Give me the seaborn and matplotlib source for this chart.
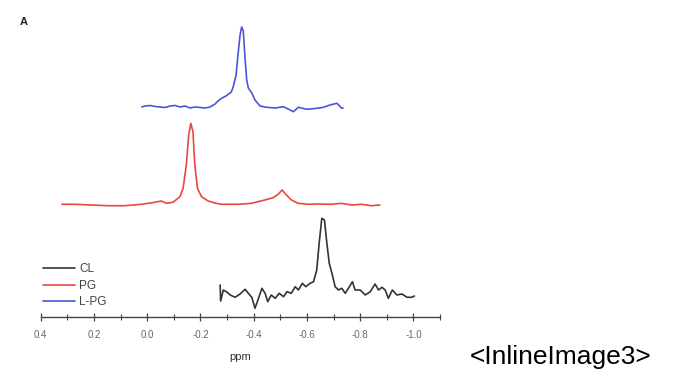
import numpy as np
import pandas as pd
import matplotlib
matplotlib.use("Agg")
import matplotlib.pyplot as plt
import seaborn as sns
from matplotlib.ticker import MultipleLocator, FormatStrFormatter

# ---- data (ppm, displayed intensity incl. stack offset) ----
lpg_ppm = [0.020, 0.008, -0.011, -0.030, -0.048, -0.067, -0.086, -0.105, -0.124, -0.142,
           -0.161, -0.180, -0.199, -0.218, -0.236, -0.255, -0.266, -0.281, -0.296, -0.316,
           -0.323, -0.334, -0.341, -0.349, -0.355, -0.361, -0.368, -0.374, -0.380, -0.393,
           -0.405, -0.424, -0.449, -0.481, -0.512, -0.537, -0.549, -0.568, -0.600, -0.637,
           -0.662, -0.687, -0.713, -0.731, -0.736]
lpg_int = [210, 211, 211.5, 210.5, 210, 209.5, 211, 211.5, 210, 211,
           209, 210, 209.5, 209, 210, 213, 216, 219, 221, 225,
           230, 242, 262, 282, 290, 286, 257, 237, 229, 224,
           217, 211, 209.7, 209, 210.3, 207, 205.3, 209.7, 207.7, 208.7,
           209.7, 212, 213.7, 208.7, 209]

pg_ppm = [0.320, 0.271, 0.210, 0.147, 0.084, 0.022, -0.029, -0.053, -0.072, -0.097,
          -0.123, -0.135, -0.147, -0.156, -0.164, -0.172, -0.179, -0.189, -0.204, -0.229,
          -0.254, -0.279, -0.304, -0.342, -0.392, -0.442, -0.473, -0.492, -0.507, -0.523,
          -0.542, -0.567, -0.605, -0.642, -0.692, -0.730, -0.767, -0.805, -0.843, -0.874]
pg_int = [112.7, 112.7, 112, 111.3, 111.3, 112.7, 114.7, 116, 113.7, 114.7,
          120.3, 128.7, 152, 182, 193.7, 185.3, 152, 128.7, 120.3, 116,
          114, 112.7, 112.7, 112.7, 113.7, 117, 119.3, 122.7, 127, 122,
          117, 113.7, 112.7, 113, 112.7, 113.7, 112, 112.7, 111.3, 112]

cl_ppm = [-0.274, -0.276, -0.286, -0.299, -0.312, -0.330, -0.349, -0.368, -0.380, -0.393,
          -0.405, -0.416, -0.431, -0.443, -0.453, -0.466, -0.481, -0.496, -0.512, -0.525,
          -0.541, -0.556, -0.568, -0.583, -0.596, -0.612, -0.625, -0.637, -0.646, -0.656,
          -0.666, -0.675, -0.684, -0.694, -0.706, -0.719, -0.731, -0.744, -0.756, -0.771,
          -0.781, -0.800, -0.819, -0.838, -0.856, -0.869, -0.882, -0.894, -0.906, -0.921,
          -0.938, -0.957, -0.976, -0.994, -1.004]
cl_int = [32, 16, 27, 25, 22, 19.7, 23, 27.7, 23.7, 19.7,
          8.7, 17, 28.7, 23.7, 15.3, 22, 18.7, 23.7, 20.3, 25.3,
          23.7, 30.3, 27, 33.7, 30.3, 33.7, 35.3, 47, 73.7, 98.7,
          97, 73.7, 53.7, 43.7, 30.3, 27, 28.7, 23.7, 28.7, 35.3,
          27, 27, 22, 25.3, 33, 27, 29.7, 27, 18.7, 27,
          22, 23, 19.7, 19.7, 21]

series_names = ["CL", "PG", "L-PG"]
series_colors = ["#333333", "#e8483f", "#4a55d8"]
x_ticks = [0.4, 0.2, 0.0, -0.2, -0.4, -0.6, -0.8, -1.0]
x_label = "ppm"

df = pd.concat([
    pd.DataFrame({"ppm": cl_ppm, "intensity": cl_int, "lipid": "CL"}),
    pd.DataFrame({"ppm": pg_ppm, "intensity": pg_int, "lipid": "PG"}),
    pd.DataFrame({"ppm": lpg_ppm, "intensity": lpg_int, "lipid": "L-PG"}),
], ignore_index=True)

sns.set_theme(style="white")
plt.rcParams["font.family"] = ["Liberation Sans", "DejaVu Sans"]

W, H = 690, 384
fig = plt.figure(figsize=(W / 100, H / 100), dpi=100)
left_px, right_px, bot_px, top_px = 40.7, 440.0, 317, 20
ax = fig.add_axes([left_px / W, (H - bot_px) / H, (right_px - left_px) / W, (bot_px - top_px) / H])

sns.lineplot(data=df, x="ppm", y="intensity", hue="lipid", hue_order=series_names,
             palette=dict(zip(series_names, series_colors)), sort=False,
             estimator=None, linewidth=1.2, ax=ax)

ax.set_xlim(0.4, -1.1)
ax.set_ylim(0, bot_px - top_px)
ax.set_yticks([])
ax.set_ylabel("")
for s in ["left", "right", "top"]:
    ax.spines[s].set_visible(False)
ax.spines["bottom"].set_color("#444444")
ax.spines["bottom"].set_linewidth(1.0)
ax.set_xticks(x_ticks)
ax.xaxis.set_major_formatter(FormatStrFormatter("%.1f"))
ax.xaxis.set_minor_locator(MultipleLocator(0.1))
ax.tick_params(axis="x", which="major", direction="inout", length=6, width=0.9,
               color="#444444", labelsize=7, labelcolor="#666666", pad=6, bottom=True)
ax.tick_params(axis="x", which="minor", direction="inout", length=4, width=0.8,
               color="#444444", bottom=True)
ax.set_xlabel(x_label, fontsize=8, color="#333333", labelpad=9)

leg = ax.legend(loc="upper left", bbox_to_anchor=(43 / W, 1 - 263 / H),
                bbox_transform=fig.transFigure,
                frameon=False, fontsize=8.5, handlelength=2.7, handletextpad=0.35,
                labelspacing=0.4, borderaxespad=0.0, borderpad=0.0)
for t in leg.get_texts():
    t.set_color("#444444")
for l in leg.get_lines():
    l.set_linewidth(1.2)

fig.text(20 / W, 1 - 22 / H, "A", fontsize=8, fontweight="bold", color="#222222",
         ha="left", va="center")
fig.text(470 / W, 1 - 357 / H, "<InlineImage3>", fontsize=19, color="#000000",
         ha="left", va="center")

fig.savefig("out.png", dpi=100)
